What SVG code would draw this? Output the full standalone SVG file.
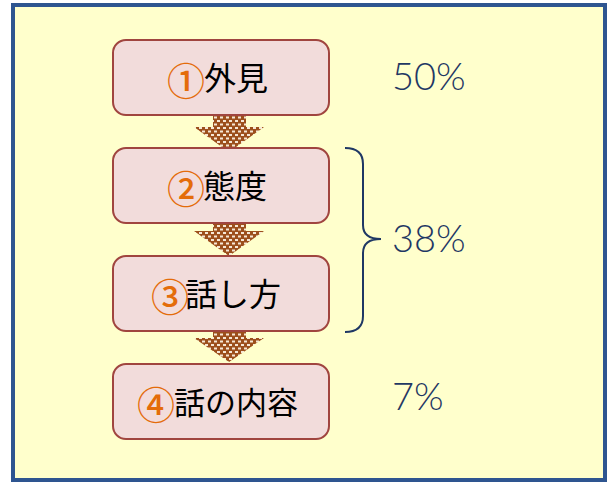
<svg xmlns="http://www.w3.org/2000/svg" width="613" height="483" viewBox="0 0 613 483">
<defs>
<style>
.box{fill:#F2DCDB;stroke:#A0453F;stroke-width:2}
.lbl{font-family:"Noto Sans CJK JP","Noto Sans CJK SC",sans-serif;font-size:32px;fill:#000;font-weight:400}
.num{fill:#E46C0A;font-size:38px;font-weight:500}
.pct{font-family:Lato,"Liberation Sans",sans-serif;font-size:38px;fill:#1F3864;font-weight:300}
.arrow{fill:url(#dots)}
</style>
<pattern id="dots" width="6" height="7" patternUnits="userSpaceOnUse">
<rect width="6" height="7" fill="#9C4F1C"/>
<rect x="1" y="1" width="3" height="2" fill="#F6E7D6"/>
<rect x="4" y="4.5" width="2" height="2" fill="#F6E7D6"/>
<rect x="0" y="4.5" width="1" height="2" fill="#F6E7D6"/>
</pattern>
</defs>
<rect x="13" y="5" width="592" height="475" fill="#FFFFCC" stroke="#2E5590" stroke-width="4"/>
<g id="connectors">
<path class="arrow" d="M213,108 H246 V127 H264 L229,152 L194,127 H213 Z"/>
<path class="arrow" d="M213,212 H246 V231 H264 L229,256 L194,231 H213 Z"/>
<path class="arrow" d="M213,320 H246 V338 H264 L229,362 L194,338 H213 Z"/>
</g>
<g id="n1"><rect class="box" x="113" y="40" width="216" height="75" rx="13"/><text class="lbl"><tspan class="num" x="167" y="95">①</tspan><tspan x="204" y="90">外見</tspan></text></g>
<g id="n2"><rect class="box" x="113" y="148" width="216" height="75" rx="13"/><text class="lbl"><tspan class="num" x="167" y="203">②</tspan><tspan x="203" y="198">態度</tspan></text></g>
<g id="n3"><rect class="box" x="113" y="256" width="216" height="75" rx="13"/><text class="lbl"><tspan class="num" x="151" y="311">③</tspan><tspan x="185" y="306">話し方</tspan></text></g>
<g id="n4"><rect class="box" x="113" y="364" width="216" height="75" rx="13"/><text class="lbl" style="font-size:31px"><tspan class="num" x="137" y="419">④</tspan><tspan x="174" y="414">話の内容</tspan></text></g>
<path d="M345,148 Q363,148 363,164 V225 Q363,239 381,239 Q363,239 363,253 V316 Q363,332 345,332" fill="none" stroke="#1F3864" stroke-width="2"/>
<text class="pct" x="392" y="90">50%</text>
<text class="pct" x="392" y="252">38%</text>
<text class="pct" x="392" y="410">7%</text>
</svg>
